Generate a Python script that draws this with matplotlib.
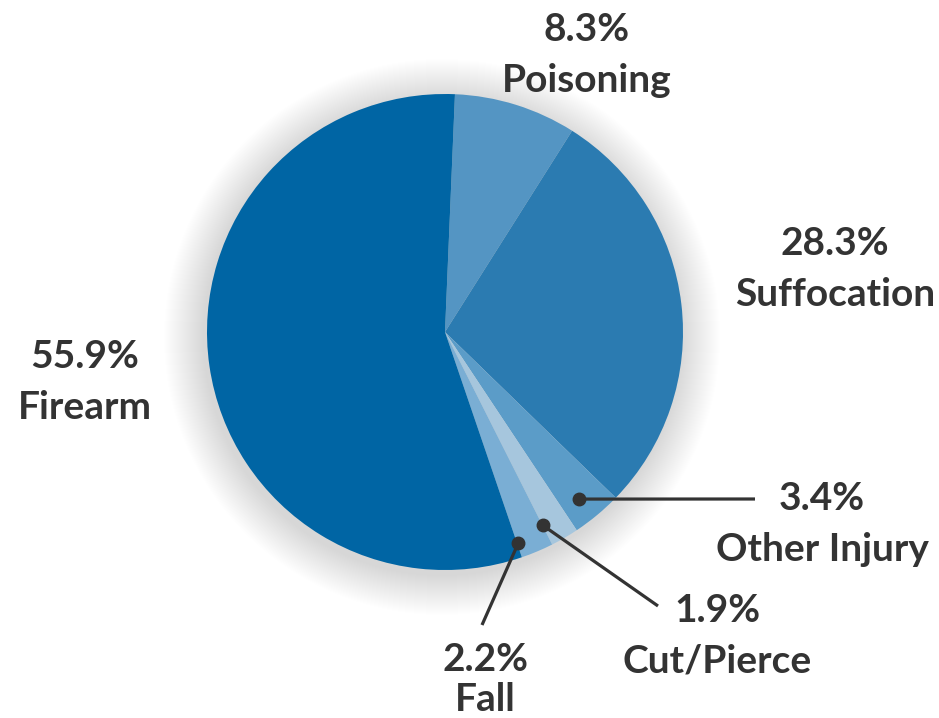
import numpy as np
import matplotlib
matplotlib.use('Agg')
from matplotlib import pyplot as plt
from matplotlib.patches import Circle

# data
causes = ['Poisoning', 'Suffocation', 'Other Injury', 'Cut/Pierce', 'Fall', 'Firearm']
shares = [8.3, 28.3, 3.4, 1.9, 2.2, 55.9]
colors = ['#5495C3', '#2B7BB1', '#5B9CC8', '#A6C6DD', '#7AAED4', '#0065A4']

# label centres x, baseline of percent line (pixel space, y down)
label_xy = {
    'Poisoning': (587, 41),
    'Suffocation': (835, 255),
    'Firearm': (85, 368),
    'Other Injury': (822, 510),
    'Cut/Pierce': (717, 622),
    'Fall': (485, 671),
}
line_gap = {'Fall': 40}
# leader lines: where along the wedge (clockwise) the dot sits, and where the line ends
dot_pos = {
    'Other Injury': (0.58, 0.90),
    'Cut/Pierce': (0.99, 0.91),
    'Fall': (0.97, 0.94),
}
leader_end = {
    'Other Injury': (755, 499),
    'Cut/Pierce': (658, 606),
    'Fall': (482, 625),
}

W, H = 939, 718
cx, cy, R = 445, H - 332, 238
start = 87.6
txt_color = '#333333'

fig = plt.figure(figsize=(W / 100, H / 100), dpi=100)
ax = fig.add_axes([0, 0, 1, 1])

# soft glow behind the pie
for i in range(40):
    ax.add_patch(Circle((cx - 3, cy - 5), R + 40 - i, color='#808080',
                        alpha=0.0042, lw=0, zorder=0))

wedges, _ = ax.pie(shares, colors=colors, startangle=start, counterclock=False,
                   center=(cx, cy), radius=R, frame=True,
                   wedgeprops=dict(linewidth=0))
ax.set_xlim(0, W)
ax.set_ylim(0, H)
ax.set_aspect('equal')
ax.axis('off')

font = dict(fontsize=28, fontweight='bold', family='Lato', color=txt_color,
            ha='center', va='baseline', zorder=5)

for w, name, val in zip(wedges, causes, shares):
    lx, ly = label_xy[name]
    gap = line_gap.get(name, 51)
    ax.text(lx, H - ly, '{}%'.format(val), **font)
    ax.text(lx, H - ly - gap, name, **font)
    if name in dot_pos:
        f, rf = dot_pos[name]
        ang = np.deg2rad(w.theta2 - f * (w.theta2 - w.theta1))
        px = cx + rf * R * np.cos(ang)
        py = cy + rf * R * np.sin(ang)
        ex, ey = leader_end[name]
        ax.plot([px, ex], [py, H - ey], color=txt_color, lw=2.3, zorder=4,
                solid_capstyle='butt')
        ax.plot(px, py, 'o', color=txt_color, ms=9, zorder=4)

fig.savefig('out.png', dpi=100, facecolor='white')
